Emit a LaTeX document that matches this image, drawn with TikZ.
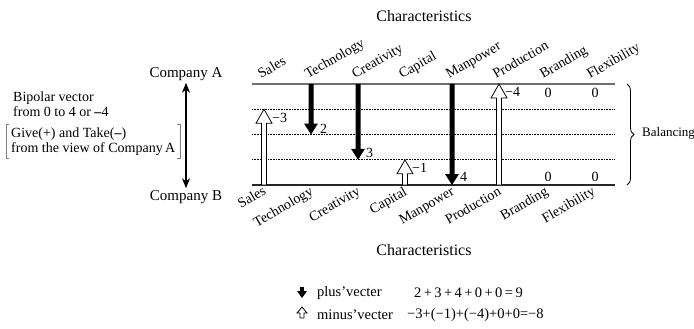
\documentclass[tikz,border=0pt]{standalone}
\usepackage{fontspec}
\setmainfont{Liberation Serif}
\usepackage{tikz}
\usetikzlibrary{calc,arrows.meta,decorations.pathreplacing}
\definecolor{topline}{HTML}{6e6e6e}
\definecolor{bracketgray}{HTML}{808080}

% filled vector pointing down: base, tip, half shaft, half head, head length
\newcommand{\plusvec}[5]{%
  \fill ($(#1)+(-#3,0)$) -- ($(#2)+(-#3,-#5)$) -- ($(#2)+(-#4,-#5)$) -- (#2)
    -- ($(#2)+(#4,-#5)$) -- ($(#2)+(#3,-#5)$) -- ($(#1)+(#3,0)$) -- cycle;}
% hollow vector pointing up: base, tip, half shaft, half head, head length
\newcommand{\minusvec}[5]{%
  \filldraw[fill=white, line width=0.8pt] ($(#1)+(-#3,0)$) -- ($(#2)+(-#3,#5)$) -- ($(#2)+(-#4,#5)$) -- (#2)
    -- ($(#2)+(#4,#5)$) -- ($(#2)+(#3,#5)$) -- ($(#1)+(#3,0)$) -- cycle;}

\begin{document}
\begin{tikzpicture}[x=1pt, y=-1pt,
  lbl/.style={font=\fontsize{14}{15}\selectfont, inner sep=0pt},
  toplbl/.style={lbl, rotate=30, anchor=base west},
  botlbl/.style={lbl, rotate=30, anchor=base east},
  val/.style={lbl, anchor=west},
  comp/.style={font=\fontsize{15}{16}\selectfont, inner sep=2pt},
  title/.style={font=\fontsize{16}{18}\selectfont, inner sep=0pt},
  leg/.style={font=\fontsize{14.5}{16}\selectfont, inner sep=0pt, anchor=west},
  level/.style={densely dotted, line width=0.6pt},
  brk/.style={bracketgray, line width=0.6pt},
]
\useasboundingbox (0,0) rectangle (694,329);

% Titles
\node[title] (chartop) at (424,16) {Characteristics};
\node[title] (charbot) at (424,250) {Characteristics};

% Columns
\foreach \i/\col/\txt in {0/sales/Sales, 1/tech/Technology, 2/crea/Creativity, 3/cap/Capital,
    4/man/Manpower, 5/prod/Production, 6/brand/Branding, 7/flex/Flexibility} {
  \coordinate (\col-t) at (264+47*\i,84);
  \coordinate (\col-b) at (264+47*\i,185);
  \node[toplbl] (\col-top) at ($(\col-t)+(-3,-5)$) {\txt};
  \node[botlbl] (\col-bot) at ($(\col-b)+(3,9)$) {\txt};
}

% Levels
\foreach \y in {109.25,134.5,159.75} {
  \draw[level] (252,\y) -- (615,\y);
}
\draw[topline, line width=1.2pt] (252,84) -- (615,84);
\draw[black!85, line width=1.2pt] (252,185) -- (615,185);

% Vectors
\coordinate (sales-tip) at ($(sales-b)+(0,-75.75)$);
\coordinate (tech-tip) at ($(tech-t)+(0,50.5)$);
\coordinate (crea-tip) at ($(crea-t)+(0,75.75)$);
\coordinate (cap-tip) at ($(cap-b)+(0,-25.25)$);
\coordinate (man-tip) at ($(man-t)+(0,101)$);
\coordinate (prod-tip) at ($(prod-b)+(0,-101)$);
\minusvec{sales-b}{sales-tip}{2.5}{8}{14}
\plusvec{tech-t}{tech-tip}{2.5}{7}{11}
\plusvec{crea-t}{crea-tip}{2.5}{7}{11}
\minusvec{cap-b}{cap-tip}{2.5}{8}{14}
\plusvec{man-t}{man-tip}{2.5}{7}{11}
\minusvec{prod-b}{prod-tip}{2.5}{8}{14}

% Values
\node[val] (sales-val) at ($(sales-tip)+(8,9)$) {−3};
\node[val] (tech-val) at ($(tech-tip)+(9,-6)$) {2};
\node[val] (crea-val) at ($(crea-tip)+(8,-7)$) {3};
\node[val] (cap-val) at ($(cap-tip)+(7,8)$) {−1};
\node[val] (man-val) at ($(man-tip)+(8,-8)$) {4};
\node[val] (prod-val) at ($(prod-tip)+(6,8)$) {−4};
\foreach \col in {brand,flex} {
  \node[lbl] (\col-ztop) at ($(\col-t)+(2,9)$) {0};
  \node[lbl] (\col-zbot) at ($(\col-b)+(2,-8)$) {0};
}

% Left side
\node[comp] (compA) at (186,74) {Company A};
\node[comp] (compB) at (186,197) {Company B};
\draw[{Stealth[length=10pt,width=8pt]}-{Stealth[length=10pt,width=8pt]}, line width=1.3pt] (compA.south) -- (compB.north);
\node[lbl, anchor=base west, align=left] (bipolar) at (13,117) {Bipolar vector\\from 0 to 4 or \textbf{–}4};
\node[lbl, anchor=base west, align=left, font=\fontsize{14}{14.5}\selectfont] (give) at (11,152) {Give(+) and Take(\textbf{–})\\from the view of Company\,A};
\draw[brk] ($(give.north west)+(-2,-3)$) -- ++(-3,0) -- ($(give.south west)+(-5,3)$) -- ++(3,0);
\draw[brk] ($(give.north east)+(2,-3)$) -- ++(3,0) -- ($(give.south east)+(5,3)$) -- ++(-3,0);

% Balancing
\draw[decorate, decoration={brace, amplitude=7pt}, line width=0.8pt] (627,84) -- (627,185);
\node[lbl, anchor=west, font=\fontsize{13}{14}\selectfont] (balance) at (642,133) {Balancing};

% Legend
\coordinate (legplus-b) at (302,287);
\coordinate (legplus-tip) at (302,298);
\coordinate (legminus-b) at (302,318);
\coordinate (legminus-tip) at (302,307);
\plusvec{legplus-b}{legplus-tip}{1.8}{5}{7}
\minusvec{legminus-b}{legminus-tip}{2}{5}{6}
\node[leg] (plustxt) at (317,293) {plus’vecter};
\node[leg] (plussum) at (414,293) {2\,+\,3\,+\,4\,+\,0\,+\,0\,=\,9};
\node[leg] (minustxt) at (317,315) {minus’vecter};
\node[leg] (minussum) at (407,315) {−3+(−1)+(−4)+0+0=−8};

\end{tikzpicture}
\end{document}
